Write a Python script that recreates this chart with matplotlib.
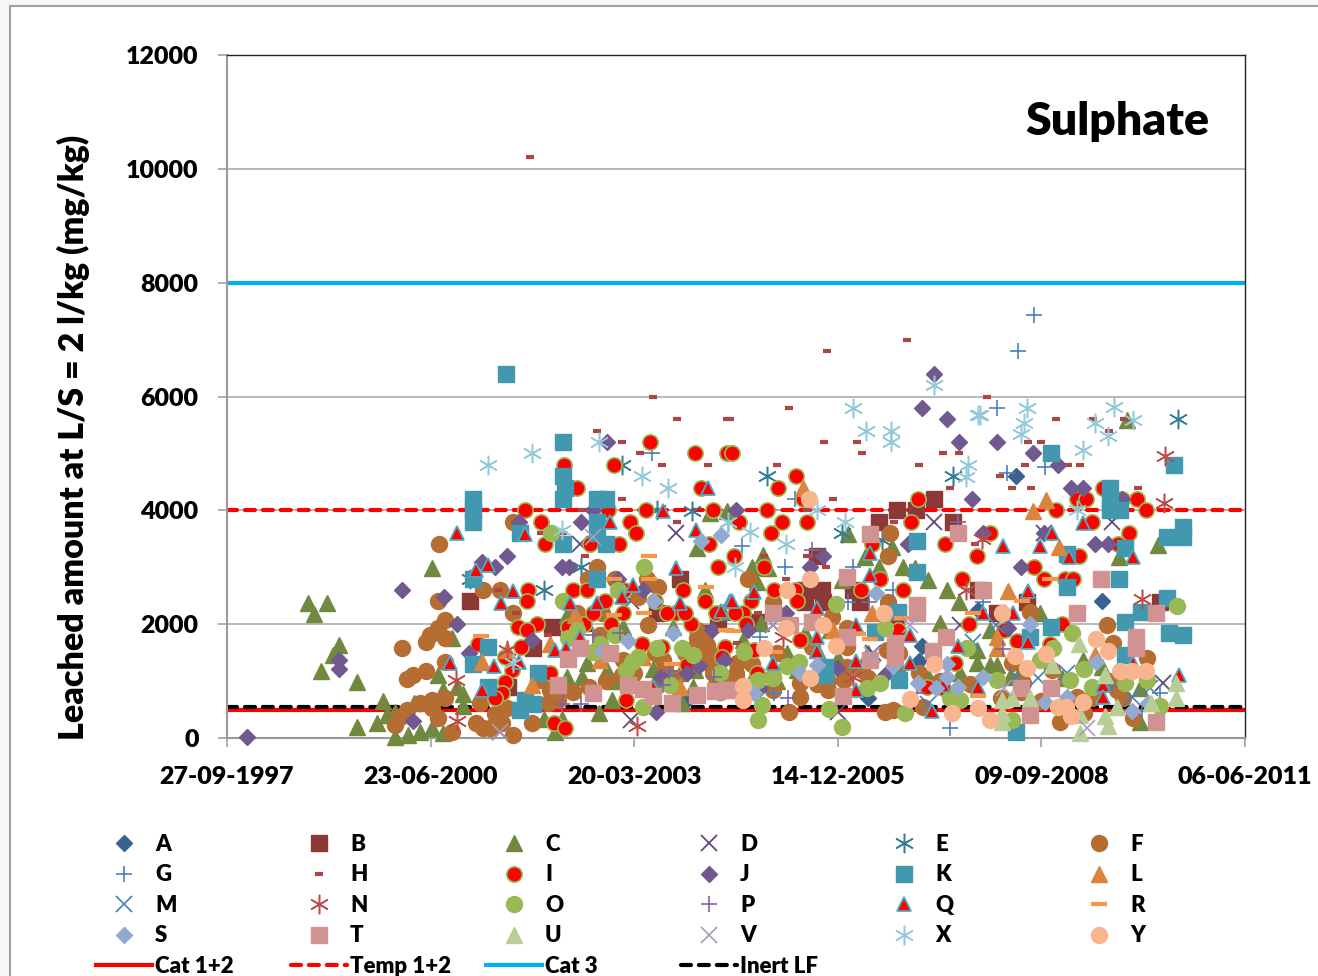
import matplotlib
matplotlib.use('Agg')
import matplotlib.pyplot as plt
from matplotlib.lines import Line2D
from matplotlib.patches import Rectangle

plt.rcParams['font.family'] = ['Lato', 'DejaVu Sans']
plt.rcParams['font.weight'] = 'heavy'

# (date serial, leached mg/kg)
A = [(39576,4600),(39996,2400),(39112,1620),(39101,1360),(38850,700),(39391,2250),(37958,670)]
B = [(36894,2400),(37295,1950),(37201,1575),(37925,2800),(38110,2015),(37811,2190),(37082,900),(37450,2015),(38040,1840),
     (39173,4200),(39085,4000),(38993,4000),(38900,3800),(39265,3800),(38624,2600),(38539,2600),(38539,2395),(38626,2395),
     (38809,2395),(38777,2600),(39391,2600),(39628,2395),(39481,2200),(40283,2395),(38310,2040),(38597,3200)]
C = [(36100,2380),(36193,2380),(36129,2180),(36250,1630),(36219,1460),(36162,1170),(36340,990),(36705,2990),(36465,655),
     (36340,190),(36435,260),(36484,400),(36525,20),(36587,50),(36648,110),(36709,170),(36763,80),(36738,1110),(36807,1750),
     (36763,840),(36828,900),(36861,780),(36861,560),(36525,460),(36620,610),(37529,445),(37590,670),(37257,340),(37347,340),
     (37311,110),(37368,1080),(37442,1080),(37565,1200),(37385,900),(37647,1950),(38048,2600),(37892,1950),(37368,2160),
     (38138,2220),(38072,3950),(38007,3330),(38154,3980),(37794,1220),(37835,1220),(37990,900),(37933,610),(37467,1310),
     (37925,1150),(38752,3580),(38335,3215),(38277,3010),(38359,2980),(38900,3010),(39022,3010),(38965,3360),(38834,3185),
     (38719,2776),(39080,2980),(39145,2776),(39235,2600),(39297,2395),(39693,2190),(39202,2015),(39448,1900),(39382,1545),
     (39382,1310),(39448,1280),(39481,1280),(40119,5590),(40271,3390),(40083,3185),(40184,870),(40184,285),(39906,1370),
     (38322,2015),(38302,2745),(38449,1490),(38539,1840),(39546,1080),(38236,1720),(38662,1900),(37600,1000),(37700,1050),
     (37800,1000),(37900,1050),(38000,1200),(38100,1100),(38200,1300),(38300,1200),(38400,1000),(38500,1200),(38600,1550),
     (38700,1400),(38850,1500),(39000,1250),(39150,1050),(39300,1150),(39600,1200),(39800,1050),(40000,1250),(40100,1050)]
D = [(37434,3400),(37904,3600),(37684,2400),(37684,315),(37041,110),(39173,3800),(40045,3800),(39715,3600),(38384,1985),
     (39300,1985),(38703,460),(40296,960),(38875,1490)]
E = [(37259,2600),(37437,3000),(36894,2800),(37639,4800),(37986,3995),(37811,4000),(38162,3800),(38354,4600),(39265,4600),
     (38719,3600),(40373,5600),(38916,3480)]
F = [(36741,3400),(37107,3800),(36956,2600),(36738,2400),(37041,2600),(37107,2200),(36771,2070),(36738,1930),(36697,1810),
     (36678,1690),(36771,1750),(36558,1590),(36771,1340),(36678,1170),(36615,1100),(36586,1035),(36771,700),(36705,670),
     (36648,610),(36583,490),(36550,375),(36525,228),(36705,520),(36738,345),(36804,110),(36943,610),(37074,520),(37017,430),
     (36921,260),(36959,170),(36992,170),(37049,260),(37107,50),(37197,260),(37519,3010),(37475,2800),(37606,2800),(37762,2800),
     (37819,2660),(37720,2480),(37540,2190),(37770,1985),(37532,1810),(38007,1750),(38056,1630),(38056,1340),(38089,1140),
     (37418,2190),(37647,1370),(37843,1370),(37237,1020),(37287,840),(37328,670),(37278,610),(38954,3610),(38945,3200),
     (38261,2800),(38384,2395),(38949,2395),(39644,2220),(40021,1985),(40050,1665),(40217,1400),(38670,2130),(38744,1925),
     (38572,1600),(38744,1250),(38515,960),(38515,725),(38384,845),(38462,460),(38654,845),(38728,1020),(38932,460),(38973,490),
     (39120,550),(39554,1310),(39792,285),(39907,435),(39873,725),(40152,345),(38940,1545),(39750,1195),(39972,845),(38384,1080),
     (39612,960),(40070,845),(38744,1600),(38204,1310),(38007,1900),(38040,1800),(38070,1500),(38000,1600),(38100,1300),
     (37950,1500),(37800,1500),(37850,1250),(37700,1150),(37640,1100),(37560,1000),(37480,900),(37400,800),(37900,1050),
     (38150,1000),(38120,800),(38200,1100),(38280,1300),(38400,1500),(38500,1300),(38600,950),(38650,1000),(38820,1200),
     (38850,1050),(39000,1500),(39100,1150),(39200,1000),(39350,950),(39500,700),(39600,800),(39700,650),(39950,700),
     (40050,1000),(40100,700)]
G = [(37789,5000),(39664,7430),(39584,6800),(39481,5800),(39718,4768),(39533,4660),(38490,4200),(38228,3380),(38441,3010),
     (38777,3010),(38752,2395),(39415,2395),(38318,1780),(38389,785),(39251,170),(40045,930),(40193,490),(38973,2600),
     (40283,785),(37876,1110)]
H = [(37188,10200),(37791,6000),(37912,5600),(38154,5600),(37519,5400),(37639,5200),(37729,5000),(37835,4800),(38064,4800),
     (37639,4200),(37912,3800),(37458,3200),(37241,3600),(37352,3600),(37442,4000),(37030,2600),(37120,2200),(37278,1810),
     (38646,6800),(39039,7000),(39435,6000),(38461,5800),(38171,5600),(39770,5600),(39952,5600),(40106,5600),(40032,5400),
     (38633,5200),(38793,5200),(39636,5200),(39697,5200),(38818,5000),(39219,5000),(39297,5000),(38403,4800),(39101,4800),
     (39620,4800),(39832,4800),(39890,4800),(39497,4600),(39251,4400),(39554,4400),(39649,4400),(40176,4400),(38675,4200),
     (38548,4000),(38976,3800),(39374,3400),(38338,3200),(38551,3200),(38642,3000),(38444,2800),(38310,2200),(38204,1665)]
I = [(37778,5200),(37999,5000),(38154,5000),(37357,4800),(37603,4800),(37418,4400),(38027,4400),(37164,4000),(37570,4000),
     (37756,4000),(38089,4000),(37242,3800),(37680,3800),(37709,3600),(37262,3400),(37483,3400),(37627,3400),(38069,3400),
     (38112,3000),(37398,2600),(37180,2600),(37467,2600),(37557,2400),(37172,2400),(37938,2600),(38048,2400),(37643,2200),
     (37900,2200),(37860,2200),(37977,2000),(37221,2000),(37131,1950),(37172,1900),(37455,2000),(37377,1950),(37586,2000),
     (37144,1600),(37737,1660),(37835,1600),(36935,1660),(37065,1430),(37098,1200),(37065,990),(37049,790),(37016,700),
     (37287,1140),(37658,670),(37306,260),(37360,170),(38146,1600),(38130,1430),(37958,1280),(38179,5000),(38495,4600),
     (38405,4400),(38531,4200),(38354,4000),(39096,4200),(38217,3800),(38428,3800),(38548,3800),(38371,3600),(39058,3800),
     (39227,3400),(39448,3600),(39382,3200),(39772,4000),(39873,4200),(39919,4200),(40001,4400),(40095,4200),(40168,4200),
     (40214,4000),(39947,3800),(40131,3600),(40078,3400),(39885,3200),(39666,3000),(39715,2800),(39816,2800),(39857,2800),
     (39309,2800),(38867,3400),(38908,2800),(38813,2600),(39022,2600),(38389,2600),(38490,2600),(38338,3000),(38192,3200),
     (38272,2400),(38236,2200),(38195,2200),(38515,1720),(39343,2000),(39803,2000),(39517,1900),(39582,1700),(39743,1660),
     (39276,1310),(39137,900),(39219,870),(38302,1140),(38245,1550),(38286,1550),(38990,2015),(38998,1900),(37500,2200),
     (37650,2600),(37800,2400),(37950,2200),(38100,2200),(38250,2000),(38400,2200),(38500,2400)]
J = [(35798,20),(37567,5200),(37437,3800),(37134,3800),(37500,4000),(37074,3200),(36951,3100),(37017,3000),(37347,3000),
     (37378,3000),(36558,2600),(36768,2470),(36831,2000),(37197,1720),(36250,1370),(36250,1220),(36890,1490),(36615,290),
     (37745,2600),(37622,2800),(38081,1900),(37958,1150),(38020,1265),(37832,1080),(37806,460),(38143,1370),(39174,6400),
     (39116,5800),(39235,5600),(39296,5200),(39481,5200),(39661,5000),(39783,4800),(39846,4400),(39906,4400),(40095,4200),
     (39358,4200),(39964,3400),(40029,3400),(38200,4000),(39047,3400),(38626,3200),(38564,3000),(39600,3000),(39415,3600),
     (39715,3600),(38261,1900),(38446,2200),(39538,1925),(38695,1225),(38932,1110),(38318,870)]
K = [(37069,6400),(36908,4200),(36908,4000),(36908,3800),(37350,5200),(37350,4600),(37360,4400),(37350,4200),(37516,4200),
     (37562,4200),(37516,3800),(37516,3600),(37140,3600),(37350,3400),(37562,3400),(37519,2800),(36908,2800),(36980,1600),
     (36908,1300),(36980,900),(37226,1150),(37164,670),(37205,600),(37140,500),(39746,5000),(40351,4800),(40037,4400),
     (40037,4200),(40037,4000),(40086,4000),(40394,3700),(40315,3540),(40394,3540),(40113,3340),(39828,3240),(39088,3460),
     (39828,2660),(40083,2800),(39088,2920),(39746,1950),(40113,2040),(40188,2220),(40315,2460),(40329,1840),(40394,1810),
     (40113,1460),(39644,1780),(38638,1100),(38638,1250),(39003,1020),(38998,2220),(38883,1870),(39574,110)]
L = [(36951,1340),(37197,930),(37287,1660),(37074,1545),(37409,2160),(37925,900),(37745,1430),(37532,1370),(38531,4387),
     (39661,3990),(39723,4180),(39784,3360),(39538,2580),(38867,2190),(39481,1780),(39481,1575),(39963,1460),(38678,1900)]
M = [(39478,1985),(39685,1050),(40234,870),(39145,600),(39579,1080),(40144,725),(39366,1690),(39824,1140)]
N = [(36825,1020),(36828,305),(37077,1545),(37712,215),(40307,4960),(40302,4125),(40193,2440),(39410,3500),(39330,2600),
     (38777,1075),(38433,1780)]
O = [(37292,3600),(37750,3010),(37349,2410),(37622,2600),(37418,1900),(37377,1750),(37606,1810),(37811,1575),(37933,1575),
     (37990,1460),(37720,1430),(37688,1340),(37660,1195),(37532,1660),(37499,1515),(37876,930),(38121,1140),(37745,550),
     (38692,2360),(40365,2320),(38932,1925),(39849,1850),(39756,1575),(38240,1505),(38449,1270),(38510,1340),(38310,1020),
     (38384,1050),(38842,870),(38908,960),(38327,580),(38310,315),(38659,505),(38723,200),(39030,435),(39333,1575),(39251,700),
     (39300,670),(39481,1020),(39554,315),(39693,1370),(39841,1020),(39910,1210),(39947,900),(40111,960),(40217,1020),(40283,560)]
P = [(37499,1810),(37630,1840),(37437,590),(37347,590),(37843,930),(38094,1080),(37873,1170),(38572,3300),(39292,3800),
     (38855,2395),(38457,700),(39513,1565),(39088,785)]
Q = [(36831,3600),(36923,2950),(36984,3040),(37103,2590),(37044,2380),(37164,3580),(37581,3790),(37385,2370),(37516,2380),
     (37639,2480),(37693,2690),(37905,2980),(37925,2370),(38125,2240),(37840,3990),(38061,4390),(38004,3650),(37434,1780),
     (37311,1540),(37365,1575),(36795,1310),(37013,1270),(37136,1340),(36951,840),(37791,900),(38171,2400),(38286,2560),
     (38179,2400),(38859,3245),(38859,2860),(38600,2280),(38790,1985),(38600,1780),(38600,1520),(38384,1325),(38790,1360),
     (38790,840),(39055,1810),(39055,1310),(39292,1620),(39219,930),(39161,480),(39390,890),(39415,2190),(39562,2190),
     (39633,2580),(39633,1690),(39513,3380),(39693,3380),(39751,3600),(39906,3780),(39837,3185),(40148,3185),(40148,1310),
     (40001,930),(40001,725),(40378,1100)]
R = [(37774,3200),(37601,2800),(37774,2800),(38051,2660),(37601,2160),(37748,2200),(36948,1800),(37887,1300),(38149,1890),
     (39742,2800),(39603,2400),(39366,2200),(39014,2110),(38859,1735),(38184,1885),(38392,1505),(38801,1820),(39390,740)]
S = [(38027,3460),(38125,3570),(37797,2400),(37889,1840),(37668,1700),(37540,1530),(38886,2540),(39644,2000),(39967,1340),
     (38600,1280),(38515,1150),(39238,1295),(39238,1080),(39096,970),(39183,880),(39292,900),(39415,1080),(38289,785),
     (38973,1270),(39718,640),(39824,725),(40147,480),(40225,610)]
T = [(37328,930),(37377,1380),(37434,1575),(37581,1490),(37671,930),(37745,855),(37794,730),(37887,620),(37499,785),(38007,755),
     (38097,825),(38154,840),(38859,3585),(39292,3610),(38747,2820),(39415,2600),(39091,2337),(39091,2190),(38384,2200),
     (38572,2040),(39993,2800),(39874,2200),(40263,2200),(39232,1780),(38747,1780),(38981,1665),(38981,1430),(39170,1520),
     (38859,1370),(40163,1780),(40163,1575),(39600,870),(39747,870),(38727,745),(39644,405),(40263,285),(38179,845),(38466,1985)]
U = [(39887,1645),(39751,1280),(40013,1110),(40361,960),(40361,700),(40237,610),(40073,550),(40013,385),(40029,210),(39890,80),
     (39890,400),(39505,670),(39505,435),(39505,285),(39554,700),(39644,700)]
V = [(37041,110),(37499,3540),(38867,1460),(39517,870),(39923,170),(38384,1985),(39055,1985)]
X = [(36980,4800),(37197,5000),(37740,4600),(37865,4400),(37529,5200),(37347,3650),(37103,1310),(38162,3800),(39174,6200),
     (38777,5800),(38839,5400),(38962,5400),(38962,5200),(39391,5680),(39399,5680),(39631,5800),(39615,5530),(39598,5336),
     (39963,5530),(40057,5820),(40148,5590),(40026,5306),(39906,5060),(39341,4800),(39328,4590),(39873,4000),(38600,4000),
     (38736,3800),(38269,3620),(38444,3400),(38196,3010)]
Y = [(38561,4200),(38564,2800),(38449,2600),(38446,1925),(38626,1985),(38338,1575),(38690,1615),(38564,1060),(38236,915),
     (38236,670),(38929,2200),(39505,2200),(39174,1300),(39571,1440),(39628,1225),(39723,1470),(39967,1740),(40029,1520),
     (40086,1175),(40147,1175),(40212,1175),(39055,685),(39263,435),(39387,520),(39448,315),(39783,550),(39821,550),(39844,395),
     (39906,625)]

names = list('ABCDEFGHIJKLMNOPQRSTUVXY')
series = [A, B, C, D, E, F, G, H, I, J, K, L, M, N, O, P, Q, R, S, T, U, V, X, Y]

limit_names = ['Cat 1+2', 'Temp 1+2', 'Cat 3', 'Inert LF']
limit_values = [500, 4000, 8000, 550]

x_ticks = [35700, 36700, 37700, 38700, 39700, 40700]
x_labels = ['27-09-1997', '23-06-2000', '20-03-2003', '14-12-2005', '09-09-2008', '06-06-2011']
y_ticks = [0, 2000, 4000, 6000, 8000, 10000, 12000]

STAR = (6, 2, 0)
styles = {
    'A': dict(marker='D', ms=8.0, mfc='#3a6291', mec='#3a6291'),
    'B': dict(marker='s', ms=11.5, mfc='#8c3836', mec='#8c3836'),
    'C': dict(marker='^', ms=11.5, mfc='#71893f', mec='#71893f'),
    'D': dict(marker='x', ms=11, mec='#5f4a7b', mew=1.3),
    'E': dict(marker=STAR, ms=14, mec='#357d91', mew=1.1),
    'F': dict(marker='o', ms=11.5, mfc='#b66d31', mec='#b66d31'),
    'G': dict(marker='+', ms=12, mec='#4a7ebb', mew=1.2),
    'H': dict(marker='_', ms=6, mec='#aa4644', mew=3),
    'I': dict(marker='o', ms=11, mfc='#ff0000', mec='#98b954', mew=1.2),
    'J': dict(marker='D', ms=8.0, mfc='#71588f', mec='#71588f'),
    'K': dict(marker='s', ms=11.5, mfc='#4198af', mec='#4198af'),
    'L': dict(marker='^', ms=11.5, mfc='#db843d', mec='#db843d'),
    'M': dict(marker='x', ms=11, mec='#4a7ebb', mew=1.2),
    'N': dict(marker=STAR, ms=14, mec='#be4b48', mew=1.1),
    'O': dict(marker='o', ms=11.5, mfc='#98b954', mec='#98b954'),
    'P': dict(marker='+', ms=12, mec='#8064a2', mew=1.2),
    'Q': dict(marker='^', ms=10.5, mfc='#ff0000', mec='#4bacc6', mew=1.3),
    'R': dict(marker='_', ms=11, mec='#f79646', mew=3),
    'S': dict(marker='D', ms=8.0, mfc='#93a9cf', mec='#93a9cf'),
    'T': dict(marker='s', ms=11.5, mfc='#d19392', mec='#d19392'),
    'U': dict(marker='^', ms=11.5, mfc='#b9cd96', mec='#b9cd96'),
    'V': dict(marker='x', ms=11, mec='#a99bbd', mew=1.2),
    'X': dict(marker=STAR, ms=14, mec='#93c9d9', mew=1.1),
    'Y': dict(marker='o', ms=11.5, mfc='#f9b590', mec='#f9b590'),
}
limit_styles = [
    dict(color='#ff0000', lw=3.0, ls='-'),
    dict(color='#ff0000', lw=3.0, dashes=(2.4, 1.9), dash_capstyle='round'),
    dict(color='#00b0f0', lw=3.0, ls='-'),
    dict(color='#000000', lw=3.0, dashes=(2.4, 1.9), dash_capstyle='round'),
]

W, H_PX = 1318, 976
fig = plt.figure(figsize=(W / 100, H_PX / 100), dpi=100, facecolor='#f6f6f6')
fig.patches.append(Rectangle((10 / W, -0.02), 1.1, 1.02 - 6 / H_PX, transform=fig.transFigure,
                             facecolor='white', edgecolor='#a0a0a0', lw=1.5, zorder=-5, figure=fig))
ax = fig.add_axes([227 / W, 1 - 738 / H_PX, (1245 - 227) / W, (738 - 55) / H_PX])
ax.set_facecolor('white')

ax.set_xlim(x_ticks[0], x_ticks[-1])
ax.set_ylim(0, 12000)
ax.set_xticks(x_ticks)
ax.set_xticklabels(x_labels)
ax.set_yticks(y_ticks)
ax.tick_params(axis='both', labelsize=18, length=6.5, width=1.1, color='#9a9a9a')
ax.tick_params(axis='x', pad=14)
ax.tick_params(axis='y', pad=14)
ax.grid(axis='y', color='#a6a6a6', lw=1.1)
ax.set_axisbelow(True)
for side in ['left', 'bottom']:
    ax.spines[side].set_color('#9a9a9a')
    ax.spines[side].set_linewidth(1.5)
for side in ['top', 'right']:
    ax.spines[side].set_color('#222222')
    ax.spines[side].set_linewidth(1.0)

for val, st in zip(limit_values, limit_styles):
    ax.plot([x_ticks[0], x_ticks[-1]], [val, val], zorder=1.5, **st)

handles = {}
for name, pts in zip(names, series):
    xs, ys = zip(*pts)
    ax.plot(xs, ys, ls='none', zorder=3, clip_on=False, **styles[name])
    handles[name] = Line2D([], [], ls='none', **styles[name])
for name, st in zip(limit_names, limit_styles):
    handles[name] = Line2D([], [], **st)

fig.text(1117 / W, 1 - 121 / H_PX, 'Sulphate', ha='center', va='center', fontsize=33.4, color='black')
fig.text(73 / W, 1 - 437 / H_PX, 'Leached amount at L/S = 2 l/kg (mg/kg)', rotation=90,
         ha='center', va='center', fontsize=24.5, color='black')

columns = [['A', 'G', 'M', 'S', 'Cat 1+2'], ['B', 'H', 'N', 'T', 'Temp 1+2'], ['C', 'I', 'O', 'U', 'Cat 3'],
           ['D', 'J', 'P', 'V', 'Inert LF'], ['E', 'K', 'Q', 'X'], ['F', 'L', 'R', 'Y']]
for i, col in enumerate(columns):
    fig.legend([handles[c] for c in col], col, loc='upper left',
               bbox_to_anchor=((96 + 195 * i) / W, 1 - 834 / H_PX), frameon=False, fontsize=16,
               numpoints=1, handlelength=2.5, handletextpad=0.15, labelspacing=0.425,
               borderpad=0, borderaxespad=0)

fig.savefig('out.png', dpi=100, facecolor=fig.get_facecolor())
